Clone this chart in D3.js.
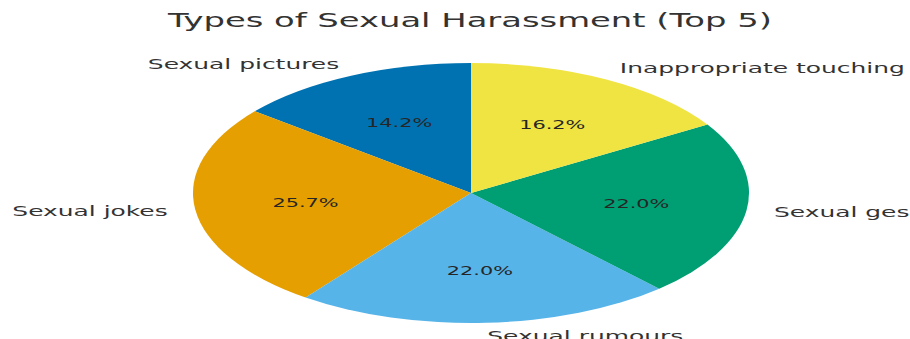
<!DOCTYPE html>
<html>
<head>
<meta charset="utf-8">
<script src="https://cdn.jsdelivr.net/npm/d3@7"></script>
<style>
  body { margin: 0; background: #fff; }
  svg { display: block; }
  text { font-family: "DejaVu Sans", sans-serif; }
</style>
</head>
<body>
<svg id="mySvg" width="910" height="339"></svg>
<script>
// chart data
var categories = ["Sexual pictures", "Sexual jokes", "Sexual rumours", "Sexual ges", "Inappropriate touching"];
var values = [14.2, 25.7, 22.0, 22.0, 16.2];
var colours = ["#0072B2", "#E69F00", "#56B4E9", "#009E73", "#F0E442"];

var svgContainer = d3.select("#mySvg");

// the picture is stretched sideways, text included
var stretch = 1.78;
var cx = 471, cy = 193;
var rx = 278, ry = 130;

var total = d3.sum(values);

// counter-clockwise from 12 o'clock, like matplotlib startangle=90
var pie = d3.pie()
  .sort(null)
  .startAngle(0)
  .endAngle(-2 * Math.PI);

var slices = pie(values);

var arc = d3.arc()
  .innerRadius(0)
  .outerRadius(ry);

var pieGroup = svgContainer.append("g")
  .attr("transform", "translate(" + cx + "," + cy + ") scale(" + (rx / ry) + ",1)");

pieGroup.selectAll("path")
  .data(slices)
  .enter()
  .append("path")
  .attr("d", arc)
  .attr("fill", function (d, i) { return colours[i]; });

// position on the ellipse at a fraction of the radius
function spot(d, k) {
  var a = (d.startAngle + d.endAngle) / 2;
  return [cx + k * rx * Math.sin(a), cy - k * ry * Math.cos(a)];
}

// category labels at 1.1 radius
svgContainer.selectAll(".label")
  .data(slices)
  .enter()
  .append("text")
  .attr("class", "label")
  .attr("transform", function (d) {
    var p = spot(d, 1.1);
    return "translate(" + p[0] + "," + p[1] + ") scale(" + stretch + ",1)";
  })
  .attr("dy", "0.35em")
  .attr("text-anchor", function (d) {
    return spot(d, 1.1)[0] > cx ? "start" : "end";
  })
  .attr("font-size", 14)
  .attr("fill", "#333")
  .text(function (d, i) { return categories[i]; });

// percentages at 0.6 radius
svgContainer.selectAll(".pct")
  .data(slices)
  .enter()
  .append("text")
  .attr("class", "pct")
  .attr("transform", function (d) {
    var p = spot(d, 0.6);
    return "translate(" + p[0] + "," + p[1] + ") scale(" + stretch + ",1)";
  })
  .attr("dy", "0.35em")
  .attr("text-anchor", "middle")
  .attr("font-size", 11.7)
  .attr("fill", "#262626")
  .text(function (d) { return (d.value / total * 100).toFixed(1) + "%"; });

// title
svgContainer.append("text")
  .attr("transform", "translate(470,27) scale(" + stretch + ",1)")
  .attr("text-anchor", "middle")
  .attr("font-size", 19)
  .attr("fill", "#333")
  .text("Types of Sexual Harassment (Top 5)");
</script>
</body>
</html>
